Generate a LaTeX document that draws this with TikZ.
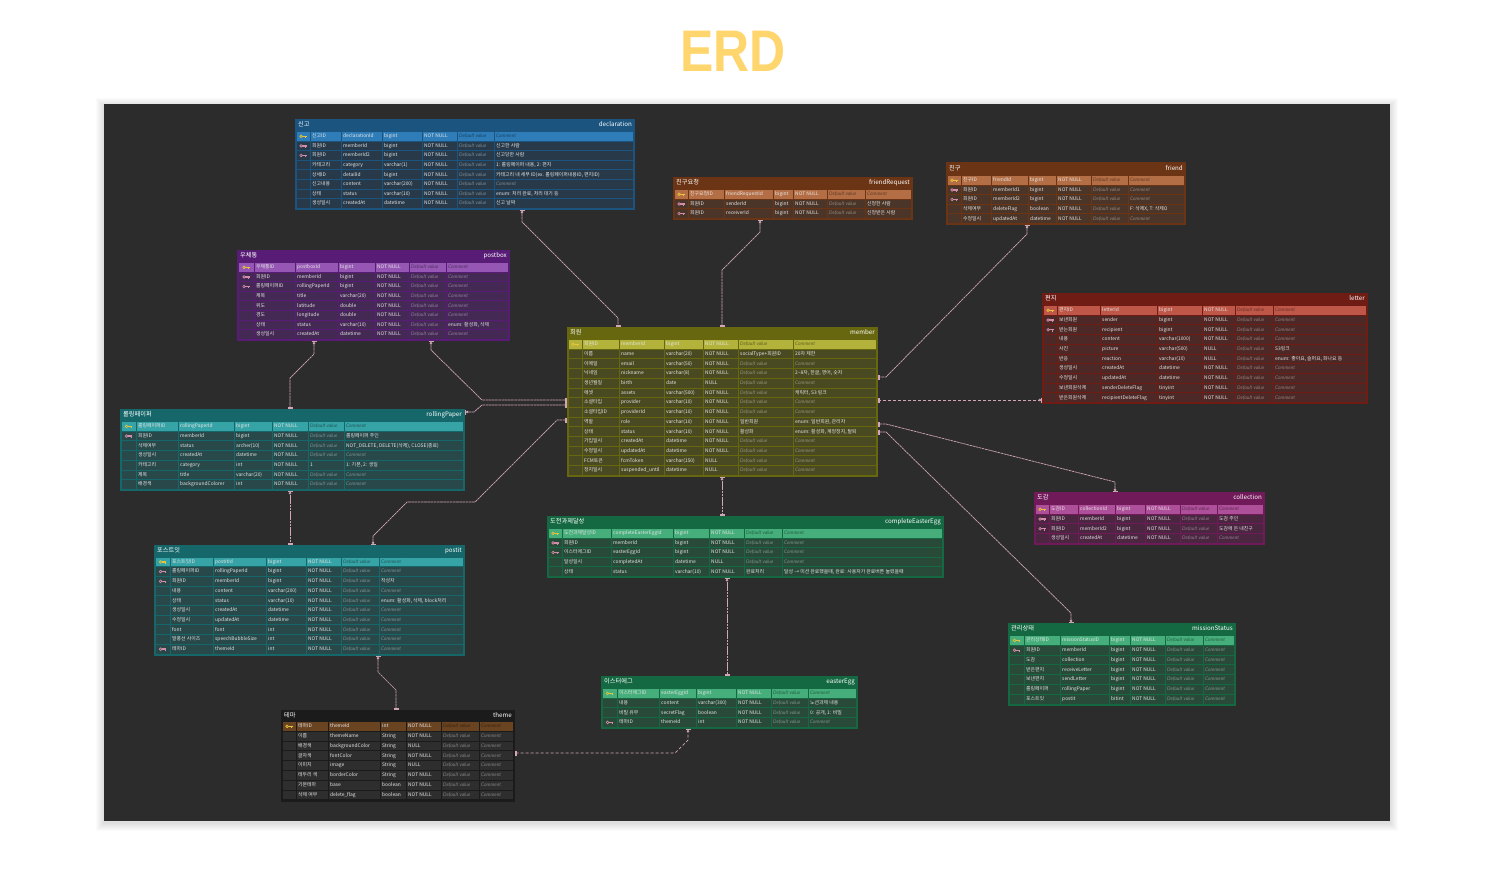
\documentclass[tikz,border=0pt]{standalone}
\usepackage{fontspec}
\setmainfont{Noto Sans CJK KR}
\newfontfamily\itf{Lato}
\newfontfamily\ttlf{Liberation Sans}
\usetikzlibrary{arrows.meta,fit}

\definecolor{canvas}{HTML}{2C2C2C}
\definecolor{ercol}{HTML}{FFD56E}
\definecolor{linec}{HTML}{D2A6B8}
\definecolor{pkkey}{HTML}{E7C23C}
\definecolor{fkkey}{HTML}{D38DAA}
\definecolor{bluH}{HTML}{1C5480}\definecolor{bluP}{HTML}{2E7DB8}\definecolor{bluR}{HTML}{283A4A}
\definecolor{brnH}{HTML}{6B3414}\definecolor{brnP}{HTML}{B46E45}\definecolor{brnR}{HTML}{4A3528}
\definecolor{purH}{HTML}{581C76}\definecolor{purP}{HTML}{9557B3}\definecolor{purR}{HTML}{452955}
\definecolor{olvH}{HTML}{67670F}\definecolor{olvP}{HTML}{B3B33B}\definecolor{olvR}{HTML}{4A4A22}
\definecolor{redH}{HTML}{6E1C14}\definecolor{redP}{HTML}{BE5748}\definecolor{redR}{HTML}{4C2926}
\definecolor{tealH}{HTML}{15676A}\definecolor{tealP}{HTML}{36A3A6}\definecolor{tealR}{HTML}{294849}
\definecolor{magH}{HTML}{701A5A}\definecolor{magP}{HTML}{AE4F9A}\definecolor{magR}{HTML}{4A2641}
\definecolor{grnH}{HTML}{156942}\definecolor{grnP}{HTML}{45AE7B}\definecolor{grnR}{HTML}{294A38}
\definecolor{blkH}{HTML}{1B1B1B}\definecolor{blkP}{HTML}{6A4321}\definecolor{blkR}{HTML}{2E2E2E}

\tikzset{
  cell/.style={anchor=west, inner sep=0pt, text height=3.7pt, text depth=1pt, text=white!90!black, font=\fontsize{4.9}{5}\selectfont},
  ttl/.style={inner sep=0pt, text height=4.3pt, text depth=1.2pt, text=white, font=\fontsize{6.2}{6.5}\selectfont},
  rel/.style={draw=linec, line width=0.7pt, dash pattern=on 2.6pt off 0.6pt,
    {Bar[width=5pt]Circle[open,length=2.6pt,width=2.6pt,fill=canvas]}-{Bar[width=5pt]Bar[width=5pt]}},
  reld/.style={rel, dash pattern=on 3pt off 2pt},
}

\newcommand{\keyicon}[3]{%
  \pgfmathsetmacro{\kx}{#1}%
  \fill[#3] ({\kx-2.2},#2) circle (1.8pt);
  \fill[#3] ({\kx-1},{#2-0.7}) rectangle ({\kx+3.6},{#2+0.7});
  \fill[#3] ({\kx+1.8},#2) rectangle ({\kx+2.7},{#2+1.9});
  \fill[\rc] ({\kx-2.2},#2) circle (0.6pt);
}
\newcommand{\PK}[2]{\keyicon{#1}{#2}{pkkey}}
\newcommand{\FK}[2]{\keyicon{#1}{#2}{fkkey}}
\newcommand{\NK}[2]{}
\newcommand{\DV}{{\itf\itshape\color{\phc}Default value}}
\newcommand{\CM}{{\itf\itshape\color{\phc}Comment}}

% name x0 y0 x1 y1 ybar ko en color
\newcommand{\Tframe}[9]{%
  \fill[#9] (#2,#3) rectangle (#4,#5);
  \node[ttl, anchor=west] at ({#2+3},{(#3+#6)/2}) {#7};
  \node[ttl, anchor=east] at ({#4-3},{(#3+#6)/2}) {#8};
  \node[fit={(#2,#3)(#4,#5)}, inner sep=0pt] (#1) {};
}
\def\parsecols#1/#2/#3/#4/#5/#6/#7/#8\relax{\def\cA{#1}\def\cB{#2}\def\cC{#3}\def\cD{#4}\def\cE{#5}\def\cF{#6}\def\cG{#7}\def\cH{#8}}
% cols ystart rowh pk row data
\newcommand{\Trows}[6]{%
  \parsecols#1\relax
  \foreach \Fi/\Fk/\Fe/\Ft/\Fn/\Fd/\Fc [count=\ri from 0] in {#6}{
    \pgfmathsetmacro{\ya}{#2+\ri*#3}
    \pgfmathsetmacro{\yb}{\ya+#3}
    \pgfmathsetmacro{\ym}{\ya+#3/2}
    \ifnum\ri=0 \def\rc{#4}\def\phc{black!45!#4}\else\def\rc{#5}\def\phc{white!40!#5}\fi
    \foreach \xa/\xb in {\cA/\cB,\cB/\cC,\cC/\cD,\cD/\cE,\cE/\cF,\cF/\cG,\cG/\cH}
      \fill[\rc] ({\xa+0.5},{\ya+0.5}) rectangle ({\xb-0.5},{\yb-0.5});
    \Fi{(\cA+\cB)/2}{\ym}
    \node[cell] at ({\cB+2},\ym) {\Fk};
    \node[cell] at ({\cC+2},\ym) {\Fe};
    \node[cell] at ({\cD+2},\ym) {\Ft};
    \node[cell] at ({\cE+2},\ym) {\Fn};
    \node[cell] at ({\cF+2},\ym) {\Fd};
    \node[cell] at ({\cG+2},\ym) {\Fc};
  }
}

\begin{document}
\begin{tikzpicture}[x=1pt,y=-1pt]
\useasboundingbox (0,0) rectangle (1488,883);
\fill[white] (0,0) rectangle (1488,883);
\foreach \s in {1,...,8}
  \fill[black,opacity=0.015] ({104-\s},{104-\s+2}) rectangle ({1390+\s},{821+\s+2});
\fill[canvas] (104,104) rectangle (1390,821);

\node[inner sep=0pt, text=ercol, font=\ttlf\bfseries\fontsize{58.7}{60}\selectfont] (erd) at (733,51) {\scalebox{0.85}[1]{ERD}};

% declaration
\Tframe{decl}{295}{119}{635}{210}{131}{신고}{declaration}{bluH}
\Trows{296.5/310/341/382/422/457/494/633.5}{131.5}{9.6}{bluP}{bluR}{
\PK/신고ID/declarationId/bigint/NOT NULL/\DV/\CM,
\FK/회원ID/memberId/bigint/NOT NULL/\DV/신고한 사람,
\FK/회원ID/memberId2/bigint/NOT NULL/\DV/신고당한 사람,
\NK/카테고리/category/varchar(1)/NOT NULL/\DV/{1: 롤링페이퍼 내용, 2: 편지},
\NK/상세ID/detailId/bigint/NOT NULL/\DV/{카테고리 내 세부 ID(ex. 롤링페이퍼내용ID, 편지ID)},
\NK/신고내용/content/varchar(200)/NOT NULL/\DV/\CM,
\NK/상태/status/varchar(10)/NOT NULL/\DV/{enum: 처리 완료, 처리 대기 등},
\NK/생성일시/createdAt/datetime/NOT NULL/\DV/신고 날짜}

% friendRequest
\Tframe{freq}{673}{177}{913}{220}{189}{친구요청}{friendRequest}{brnH}
\Trows{674.5/688/724/773/793/827/865/911.5}{189.5}{9.6}{brnP}{brnR}{
\PK/친구요청ID/friendRequestId/bigint/NOT NULL/\DV/\CM,
\FK/회원ID/senderId/bigint/NOT NULL/\DV/신청한 사람,
\FK/회원ID/receiverId/bigint/NOT NULL/\DV/신청받은 사람}

% friend
\Tframe{friend}{946}{162}{1186}{225}{175}{친구}{friend}{brnH}
\Trows{947.5/961/991/1028/1056/1091/1128/1184.5}{175.5}{9.6}{brnP}{brnR}{
\PK/친구ID/friendId/bigint/NOT NULL/\DV/\CM,
\FK/회원ID/memberId1/bigint/NOT NULL/\DV/\CM,
\FK/회원ID/memberId2/bigint/NOT NULL/\DV/\CM,
\NK/삭제여부/deleteFlag/boolean/NOT NULL/\DV/{F: 삭제X, T: 삭제O},
\NK/수정일시/updatedAt/datetime/NOT NULL/\DV/\CM}

% postbox
\Tframe{postbox}{237}{250}{510}{341}{262}{우체통}{postbox}{purH}
\Trows{238.5/254/295/338/375/409/446/508.5}{262.5}{9.6}{purP}{purR}{
\PK/우체통ID/postboxId/bigint/NOT NULL/\DV/\CM,
\FK/회원ID/memberId/bigint/NOT NULL/\DV/\CM,
\FK/롤링페이퍼ID/rollingPaperId/bigint/NOT NULL/\DV/\CM,
\NK/제목/title/varchar(20)/NOT NULL/\DV/\CM,
\NK/위도/latitude/double/NOT NULL/\DV/\CM,
\NK/경도/longitude/double/NOT NULL/\DV/\CM,
\NK/상태/status/varchar(10)/NOT NULL/\DV/{enum: 활성화, 삭제},
\NK/생성일시/createdAt/datetime/NOT NULL/\DV/\CM}

% member
\Tframe{member}{567}{327}{878}{477}{339}{회원}{member}{olvH}
\Trows{568.5/582/619/664/703/738/793/876.5}{339.5}{9.7}{olvP}{olvR}{
\PK/회원ID/memberId/bigint/NOT NULL/\DV/\CM,
\NK/이름/name/varchar(20)/NOT NULL/socialType+회원ID/20자 제한,
\NK/이메일/email/varchar(50)/NOT NULL/\DV/\CM,
\NK/닉네임/nickname/varchar(8)/NOT NULL/\DV/{2\textasciitilde8자, 한글, 영어, 숫자},
\NK/생년월일/birth/date/NULL/\DV/\CM,
\NK/에셋/assets/varchar(500)/NOT NULL/\DV/{캐릭터, S3 링크},
\NK/소셜타입/provider/varchar(10)/NOT NULL/\DV/\CM,
\NK/소셜타입ID/providerId/varchar(10)/NOT NULL/\DV/\CM,
\NK/역할/role/varchar(10)/NOT NULL/일반회원/{enum: 일반회원, 관리자},
\NK/상태/status/varchar(10)/NOT NULL/활성화/{enum: 활성화, 계정정지, 탈퇴},
\NK/가입일시/createdAt/datetime/NOT NULL/\DV/\CM,
\NK/수정일시/updatedAt/datetime/NOT NULL/\DV/\CM,
\NK/FCM토큰/fcmToken/varchar(150)/NULL/\DV/\CM,
\NK/정지일시/suspended\_until/datetime/NULL/\DV/\CM}

% letter
\Tframe{letter}{1042}{293}{1368}{404}{305}{편지}{letter}{redH}
\Trows{1043.5/1057/1100/1157/1202/1235/1273/1366.5}{305.5}{9.7}{redP}{redR}{
\PK/편지ID/letterId/bigint/NOT NULL/\DV/\CM,
\FK/보낸회원/sender/bigint/NOT NULL/\DV/\CM,
\FK/받는회원/recipient/bigint/NOT NULL/\DV/\CM,
\NK/내용/content/varchar(1000)/NOT NULL/\DV/\CM,
\NK/사진/picture/varchar(500)/NULL/\DV/S3링크,
\NK/반응/reaction/varchar(10)/NULL/\DV/{enum: 좋아요, 슬퍼요, 화나요 등},
\NK/생성일시/createdAt/datetime/NOT NULL/\DV/\CM,
\NK/수정일시/updatedAt/datetime/NOT NULL/\DV/\CM,
\NK/보낸회원삭제/senderDeleteFlag/tinyint/NOT NULL/\DV/\CM,
\NK/받은회원삭제/recipientDeleteFlag/tinyint/NOT NULL/\DV/\CM}

% rollingPaper
\Tframe{rolling}{120}{409}{465}{491}{421}{롤링페이퍼}{rollingPaper}{tealH}
\Trows{121.5/136/178/234/272/308/344/463.5}{421.5}{9.7}{tealP}{tealR}{
\PK/롤링페이퍼ID/rollingPaperId/bigint/NOT NULL/\DV/\CM,
\FK/회원ID/memberId/bigint/NOT NULL/\DV/롤링페이퍼 주인,
\NK/삭제여부/status/archer(10)/NOT NULL/\DV/{NOT\_DELETE, DELETE(삭제), CLOSE(종료)},
\NK/생성일시/createdAt/datetime/NOT NULL/\DV/\CM,
\NK/카테고리/category/int/NOT NULL/1/{1: 기본, 2: 생일},
\NK/제목/title/varchar(20)/NOT NULL/\DV/\CM,
\NK/배경색/backgroundColorer/int/NOT NULL/\DV/\CM}

% collection
\Tframe{collection}{1034}{492}{1265}{545}{504}{도감}{collection}{magH}
\Trows{1035.5/1049/1078/1115/1145/1180/1217/1263.5}{504.5}{9.7}{magP}{magR}{
\PK/도감ID/collectionId/bigint/NOT NULL/\DV/\CM,
\FK/회원ID/memberId/bigint/NOT NULL/\DV/도감 주인,
\FK/회원ID/memberId2/bigint/NOT NULL/\DV/도감에 든 내친구,
\NK/생성일시/createdAt/datetime/NOT NULL/\DV/\CM}

% completeEasterEgg
\Tframe{cee}{547}{516}{944}{578}{528}{도전과제달성}{completeEasterEgg}{grnH}
\Trows{548.5/562/611/673/709/744/782/942.5}{528.5}{9.6}{grnP}{grnR}{
\PK/도전과제달성ID/completeEasterEggId/bigint/NOT NULL/\DV/\CM,
\FK/회원ID/memberId/bigint/NOT NULL/\DV/\CM,
\FK/이스터에그ID/easterEggId/bigint/NOT NULL/\DV/\CM,
\NK/달성일시/completedAt/datetime/NULL/\DV/\CM,
\NK/상태/status/varchar(10)/NOT NULL/완료처리/{달성 → 미션 완료했을때, 완료: 사용자가 완료버튼 눌렀을때}}

% postit
\Tframe{postit}{154}{545}{465}{656}{557}{포스트잇}{postit}{tealH}
\Trows{155.5/170/213/266/306/341/379/463.5}{557}{9.7}{tealP}{tealR}{
\PK/포스트잇ID/postitId/bigint/NOT NULL/\DV/\CM,
\FK/롤링페이퍼ID/rollingPaperId/bigint/NOT NULL/\DV/\CM,
\FK/회원ID/memberId/bigint/NOT NULL/\DV/작성자,
\NK/내용/content/varchar(200)/NOT NULL/\DV/\CM,
\NK/상태/status/varchar(10)/NOT NULL/\DV/{enum: 활성화, 삭제, block처리},
\NK/생성일시/createdAt/datetime/NOT NULL/\DV/\CM,
\NK/수정일시/updatedAt/datetime/NOT NULL/\DV/\CM,
\NK/font/font/int/NOT NULL/\DV/\CM,
\NK/말풍선 사이즈/speechBubbleSize/int/NOT NULL/\DV/\CM,
\FK/테마ID/themeId/int/NOT NULL/\DV/\CM}

% missionStatus
\Tframe{mission}{1008}{623}{1236}{706}{635}{관리상태}{missionStatus}{grnH}
\Trows{1009.5/1024/1060/1109/1130/1165/1203/1234.5}{635.5}{9.8}{grnP}{grnR}{
\PK/관리상태ID/missionStatusID/bigint/NOT NULL/\DV/\CM,
\FK/회원ID/memberId/bigint/NOT NULL/\DV/\CM,
\NK/도감/collection/bigint/NOT NULL/\DV/\CM,
\NK/받은편지/receiveLetter/bigint/NOT NULL/\DV/\CM,
\NK/보낸편지/sendLetter/bigint/NOT NULL/\DV/\CM,
\NK/롤링페이퍼/rollingPaper/bigint/NOT NULL/\DV/\CM,
\NK/포스트잇/postit/bitint/NOT NULL/\DV/\CM}

% easterEgg
\Tframe{egg}{601}{676}{858}{729}{688}{이스터에그}{easterEgg}{grnH}
\Trows{602.5/617/659/696/736/771/808/856.5}{688.5}{9.7}{grnP}{grnR}{
\PK/이스터에그ID/easterEggId/bigint/NOT NULL/\DV/\CM,
\NK/내용/content/varchar(300)/NOT NULL/\DV/노션과제 내용,
\NK/비밀 유무/secretFlag/boolean/NOT NULL/\DV/{0: 공개, 1: 비밀},
\FK/테마ID/themeId/int/NOT NULL/\DV/\CM}

% theme
\Tframe{theme}{281}{710}{515}{801.5}{721}{테마}{theme}{blkH}
\Trows{282.5/296/328/380/406/441/479/513.5}{721.5}{9.8}{blkP}{blkR}{
\PK/테마ID/themeId/int/NOT NULL/\DV/\CM,
\NK/이름/themeName/String/NOT NULL/\DV/\CM,
\NK/배경색/backgroundColor/String/NULL/\DV/\CM,
\NK/글자색/fontColor/String/NOT NULL/\DV/\CM,
\NK/이미지/image/String/NULL/\DV/\CM,
\NK/테두리 색/borderColor/String/NOT NULL/\DV/\CM,
\NK/기본테마/base/boolean/NOT NULL/\DV/\CM,
\NK/삭제 여부/delete\_flag/boolean/NOT NULL/\DV/\CM}

% connectors
\draw[rel] (522,0 |- decl.south) -- (522,222) -- (618,318) -- (618,0 |- member.north);
\draw[rel] (760,0 |- freq.south) -- (760,232) -- (722,270) -- (722,0 |- member.north);
\draw[rel] (1027,0 |- friend.south) -- (1027,234) -- (886,377) -- (0,377 -| member.east);
\draw[rel] (314,0 |- postbox.south) -- (314,354) -- (290,378) -- (290,0 |- rolling.north);
\draw[rel] (431,0 |- postbox.south) -- (431,350) -- (482,400) -- (0,400 -| member.west);
\draw[rel] (0,412 -| rolling.east) -- (474,412) -- (482,405) -- (0,405 -| member.west);
\draw[rel] (373,0 |- postit.north) -- (373,536) -- (407,502) -- (475,502) -- (557,420) -- (0,420 -| member.west);
\draw[rel] (290,0 |- rolling.south) -- (290,0 |- postit.north);
\draw[rel] (378,0 |- postit.south) -- (378,672) -- (396,690) -- (396,0 |- theme.north);
\draw[rel] (722,0 |- member.south) -- (722,0 |- cee.north);
\draw[rel] (727,0 |- cee.south) -- (727,0 |- egg.north);
\draw[reld] (688,0 |- egg.south) -- (688,740) -- (675,753) -- (0,753 -| theme.east);
\draw[reld] (0,400 -| letter.west) -- (0,400 -| member.east);
\draw[rel] (1115,0 |- collection.north) -- (1115,482) -- (886,424) -- (0,424 -| member.east);
\draw[rel] (1071,0 |- mission.north) -- (1071,613) -- (886,432) -- (0,432 -| member.east);
\end{tikzpicture}
\end{document}
